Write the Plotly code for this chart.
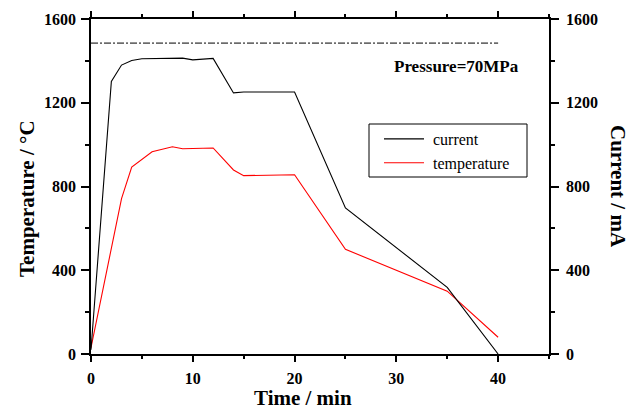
import plotly.graph_objects as go

# ---- data ----
time_current = [0, 2, 3, 4, 5, 9, 10, 12, 14, 15, 20, 25, 35, 40]
current_mA = [20, 1302, 1380, 1402, 1410, 1413, 1405, 1412, 1247, 1251, 1251, 698, 318, 0]

time_temp = [0, 3, 4, 6, 8, 9, 12, 14, 15, 20, 25, 35, 40]
temperature_C = [30, 742, 893, 966, 990, 980, 984, 879, 852, 856, 500, 300, 80]

pressure_time = [0, 40]
pressure_level = [1485, 1485]

x_ticks = [0, 10, 20, 30, 40]
y_ticks = [0, 400, 800, 1200, 1600]

FONT = "Liberation Serif"
NB = "\u00a0"

fig = go.Figure()
fig.add_trace(go.Scatter(x=time_current, y=current_mA, mode="lines", name=NB + "current",
                         line=dict(color="black", width=1.1), yaxis="y2"))
fig.add_trace(go.Scatter(x=time_temp, y=temperature_C, mode="lines", name=NB + "temperature",
                         line=dict(color="red", width=1.1)))
fig.add_trace(go.Scatter(x=pressure_time, y=pressure_level, mode="lines", showlegend=False,
                         line=dict(color="black", width=1, dash="7px,2px,2px,2px")))

tickfont = dict(family=FONT, size=16, color="black", weight="bold")
common_y = dict(range=[0, 1600], tickvals=y_ticks, showgrid=False, zeroline=False,
                showline=True, linecolor="black", linewidth=1.5, ticks="outside",
                ticklen=8, tickwidth=1.5, tickcolor="black", tickfont=tickfont,
                minor=dict(dtick=200, ticks="outside", ticklen=4, tickwidth=1.5, tickcolor="black"))

fig.update_layout(
    width=635, height=411,
    margin=dict(l=91, r=86, t=19, b=57, autoexpand=False),
    paper_bgcolor="white", plot_bgcolor="white",
    showlegend=True,
    xaxis=dict(range=[0, 45], tickvals=x_ticks, showgrid=False, zeroline=False,
               showline=True, linecolor="black", linewidth=1.5, mirror="ticks",
               ticks="outside", ticklen=6, tickwidth=1.5, tickcolor="black",
               tickfont=tickfont, ticklabelstandoff=3,
               minor=dict(dtick=5, ticks="outside", ticklen=3, tickwidth=1.5, tickcolor="black")),
    yaxis=dict(**common_y, ticklabelstandoff=2),
    yaxis2=dict(**common_y, overlaying="y", side="right", ticklabelstandoff=4),
    legend=dict(x=(379 - 91) / 458, y=(354 - 122) / 335, xanchor="left", yanchor="top",
                font=dict(family=FONT, size=16, color="black"),
                bgcolor="rgba(0,0,0,0)", borderwidth=0, itemwidth=40,
                tracegroupgap=0),
)

# legend frame
fig.add_shape(type="rect", xref="paper", yref="paper",
              x0=(369 - 91) / 458, x1=(527 - 91) / 458,
              y0=(354 - 177) / 335, y1=(354 - 124) / 335,
              line=dict(color="black", width=1))

ann = dict(xref="paper", yref="paper", showarrow=False, xanchor="center", yanchor="middle")
fig.add_annotation(text="<b>Pressure=70MPa</b>", x=(456 - 91) / 458, y=(354 - 66) / 335,
                   font=dict(family=FONT, size=17, color="black"), **ann)
fig.add_annotation(text="<b>Time / min</b>", x=(303 - 91) / 458, y=(354 - 398) / 335,
                   font=dict(family=FONT, size=21, color="black"), **ann)
fig.add_annotation(text="<b>Temperature / °C</b>", x=(27 - 91) / 458, y=(354 - 199) / 335,
                   textangle=-90, font=dict(family=FONT, size=21, color="black"), **ann)
fig.add_annotation(text="<b>Current / mA</b>", x=(618 - 91) / 458, y=(354 - 186) / 335,
                   textangle=90, font=dict(family=FONT, size=21, color="black"), **ann)

fig.write_html("out.html", config={"displayModeBar": False},
               post_script="document.body.style.margin='0';")
